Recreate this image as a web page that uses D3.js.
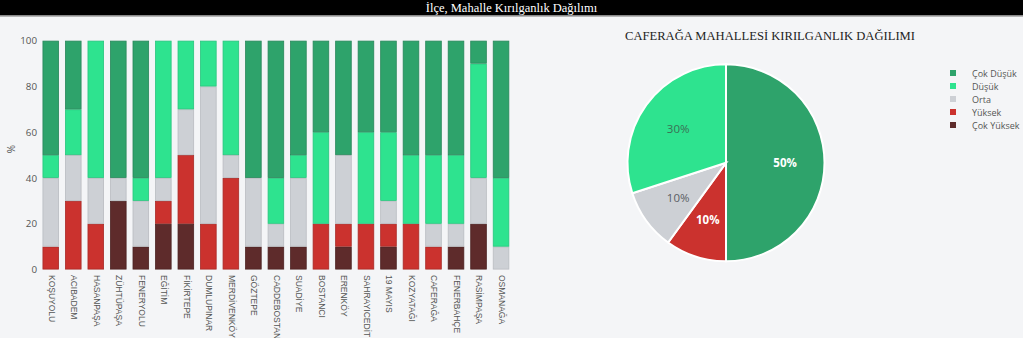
<!DOCTYPE html>
<html><head><meta charset="utf-8">
<script src="https://cdn.jsdelivr.net/npm/d3@7"></script>
<style>
html,body{margin:0;padding:0;background:#f4f5f7;}
svg{display:block;}
</style></head>
<body><svg id="c" width="1023" height="338"></svg>
<script>
const categories = ["KOŞUYOLU","ACIBADEM","HASANPAŞA","ZÜHTÜPAŞA","FENERYOLU","EĞİTİM","FİKİRTEPE","DUMLUPINAR","MERDİVENKÖY","GÖZTEPE","CADDEBOSTAN","SUADİYE","BOSTANCI","ERENKÖY","SAHRAYICEDİT","19 MAYIS","KOZYATAĞI","CAFERAĞA","FENERBAHÇE","RASİMPAŞA","OSMANAĞA"];
const seriesNames = ["Çok Yüksek","Yüksek","Orta","Düşük","Çok Düşük"];
const cokYuksek = [0,0,0,30,10,20,20,0,0,10,10,10,0,10,0,10,0,0,10,20,0];
const yuksek    = [10,30,20,0,0,10,30,20,40,0,0,0,20,10,20,10,20,10,0,0,0];
const orta      = [30,20,20,10,20,10,20,60,10,30,10,30,0,30,0,10,0,10,10,20,10];
const dusuk     = [10,20,60,0,10,60,30,20,50,0,20,10,40,0,40,30,30,30,30,50,30];
const cokDusuk  = [50,30,0,60,60,0,0,0,0,60,60,50,40,50,40,40,50,50,50,10,60];
const yTicks = [0,20,40,60,80,100];
const colors = {"Çok Düşük":"#2ea36b","Düşük":"#2ee38f","Orta":"#cdd0d5","Yüksek":"#cb322e","Çok Yüksek":"#5e2b2b"};
const borders = {"Çok Düşük":"#28875a","Düşük":"#29c47d","Orta":"#b9bcc1","Yüksek":"#a82a27","Çok Yüksek":"#4d2323"};
const legendOrder = ["Çok Düşük","Düşük","Orta","Yüksek","Çok Yüksek"];
const pieDistrict = "CAFERAĞA";
const pieOrder = ["Çok Düşük","Yüksek","Orta","Düşük"];

const svg = d3.select("#c");
const W = 1023;

// top title bar
svg.append("rect").attr("x",0).attr("y",0).attr("width",W).attr("height",15.5).attr("fill","#000");
svg.append("rect").attr("x",0).attr("y",15.5).attr("width",W).attr("height",1.2).attr("fill","#9a9a9a");
svg.append("text").attr("x",W/2).attr("y",12).attr("text-anchor","middle")
  .attr("font-family","'Liberation Serif','Times New Roman',serif").attr("font-size",12.5)
  .attr("fill","#fff").text("İlçe, Mahalle Kırılganlık Dağılımı");

// bar chart
const valuesBy = {"Çok Yüksek":cokYuksek,"Yüksek":yuksek,"Orta":orta,"Düşük":dusuk,"Çok Düşük":cokDusuk};
const rows = categories.map((c,i)=>{const o={cat:c}; seriesNames.forEach(s=>o[s]=valuesBy[s][i]); return o;});
const stacked = d3.stack().keys(seriesNames)(rows);

const x = d3.scaleBand().domain(categories).range([39.5,512.3]).paddingInner(0.27).paddingOuter(0.135);
const y = d3.scaleLinear().domain([0,100]).range([269.5,40.7]);

const g = svg.append("g");
stacked.forEach(layer=>{
  g.selectAll(null).data(layer.filter(d=>d[1]-d[0]>0)).enter().append("rect")
    .attr("x",d=>x(d.data.cat)+0.4).attr("width",x.bandwidth()-0.8)
    .attr("y",d=>y(d[1])+0.4).attr("height",d=>y(d[0])-y(d[1])-0.8)
    .attr("fill",colors[layer.key]).attr("stroke",borders[layer.key]).attr("stroke-width",0.8);
});

// y axis
const yAxis = d3.axisLeft(y).tickValues(yTicks).tickSize(0).tickPadding(0);
const ya = svg.append("g").attr("transform","translate(37,0)").call(yAxis);
ya.select(".domain").remove();
ya.selectAll("text").attr("font-family","'Open Sans',sans-serif").attr("font-size",9.8).attr("fill","#555");
svg.append("text").attr("transform","translate(15,149) rotate(-90)").attr("text-anchor","middle")
  .attr("font-family","'Open Sans',sans-serif").attr("font-size",10).attr("fill","#555").text("%");

// x axis
const xAxis = d3.axisBottom(x).tickSize(0).tickPadding(0);
const xa = svg.append("g").attr("transform","translate(0,275)").call(xAxis);
xa.select(".domain").remove();
xa.selectAll("text").attr("font-family","'Liberation Sans',Arial,sans-serif").attr("font-size",8.5)
  .attr("fill","#555").attr("text-anchor","start").attr("dy",null).attr("y",0)
  .attr("transform","rotate(90)").attr("x",0).attr("dominant-baseline","middle");

// pie title
svg.append("text").attr("x",770).attr("y",40).attr("text-anchor","middle")
  .attr("font-family","'Liberation Serif','Times New Roman',serif").attr("font-size",12.6)
  .attr("fill","#222").text(pieDistrict + " MAHALLESİ KIRILGANLIK DAĞILIMI");

// pie
const pi = categories.indexOf(pieDistrict);
const pieData = pieOrder.map(k=>({key:k, value:valuesBy[k][pi]})).filter(d=>d.value>0);
const total = d3.sum(pieData,d=>d.value);
const arcs = d3.pie().sort(null).value(d=>d.value)(pieData);
const R = 98.5;
const arc = d3.arc().innerRadius(0).outerRadius(R);
const pg = svg.append("g").attr("transform","translate(726,162.8)");
pg.selectAll("path").data(arcs).enter().append("path").attr("d",arc)
  .attr("fill",d=>colors[d.data.key]).attr("stroke","#fff").attr("stroke-width",2);
const lightKeys = {"Düşük":"#3b6f55","Orta":"#5a5d63"};
const labelArc = d3.arc().innerRadius(R*0.6).outerRadius(R*0.6);
pg.selectAll("text").data(arcs).enter().append("text")
  .attr("transform",d=>{const c=labelArc.centroid(d); return `translate(${c[0]},${c[1]})`;})
  .attr("text-anchor","middle").attr("dominant-baseline","central")
  .attr("font-family","'Open Sans',sans-serif").attr("font-size",11.5)
  .attr("font-weight",d=>lightKeys[d.data.key]?400:700)
  .attr("fill",d=>lightKeys[d.data.key]||"#fff")
  .text(d=>Math.round(d.data.value/total*100)+"%");

// legend
const lg = svg.append("g").attr("transform","translate(953,73)");
legendOrder.forEach((k,i)=>{
  const r = lg.append("g").attr("transform",`translate(0,${i*13})`);
  r.append("rect").attr("x",-3).attr("y",-3).attr("width",6).attr("height",6).attr("fill",colors[k]);
  r.append("text").attr("x",19).attr("y",0).attr("dominant-baseline","central")
    .attr("font-family","'Open Sans',sans-serif").attr("font-size",9).attr("fill","#555").text(k);
});
</script></body></html>
